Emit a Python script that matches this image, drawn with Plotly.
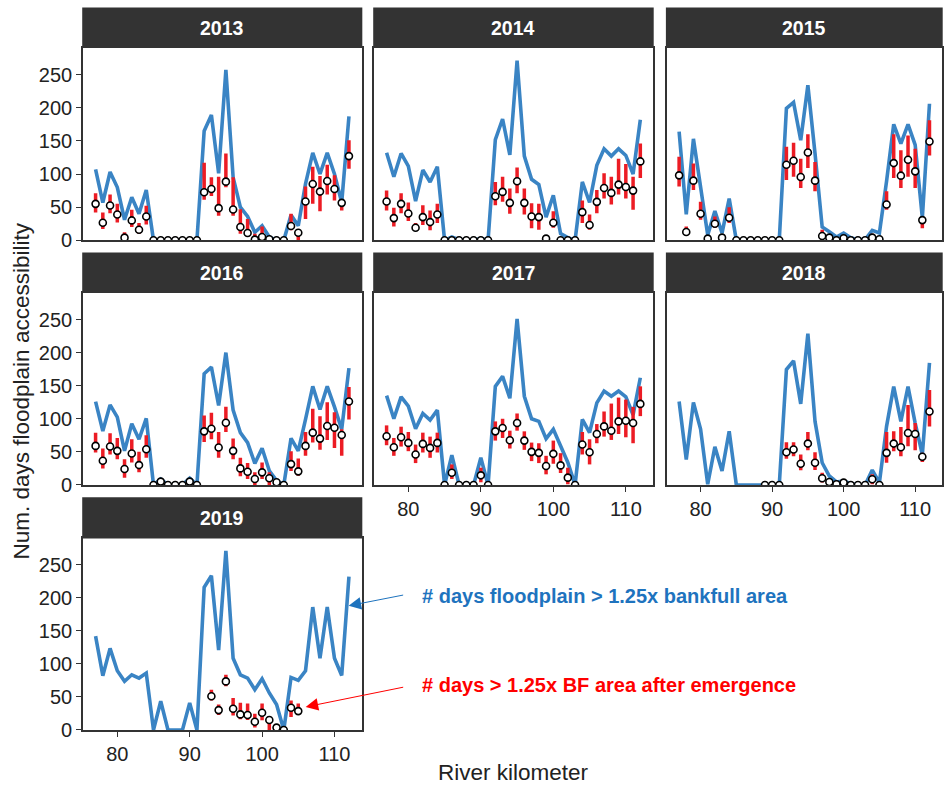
import plotly.graph_objects as go

km = list(range(77, 113))
years = ["2013", "2014", "2015", "2016", "2017", "2018", "2019"]
N = None

blue_2013 = [107, 57, 103, 80, 31, 65, 40, 76, 0, 0, 0, 0, 0, 0, 0,
             165, 189, 101, 257, 95, 50, 36, 12, 22, 5, 0, 0,
             38, 22, 85, 132, 100, 132, 100, 57, 187]
pt_2013 = [55, 26.5, 52.5, 39, 4, 30, 16, 36, 0, 0, 0, 0, 0, 0, 0,
           72.5, 77.5, 48.5, 88.5, 46.5, 20, 11, 1, 5, 1.5, 0, 0,
           21.5, 11.5, 58.5, 85, 73.5, 89.5, 77.5, 56.5, 127]
lo_2013 = [42, 17, 41, 27, 0, 20, 10, 24, 0, 0, 0, 0, 0, 0, 0,
           61, 67, 37, 80, 37, 10, 5, 0, 0, 1.5, 0, 0,
           15, 0, 32, 55, 44, 69, 60, 45, 108]
hi_2013 = [71, 42, 69, 55, 12, 46, 26, 52, 0, 0, 0, 0, 0, 0, 0,
           117, 95, 96, 131, 95, 47, 32, 10, 21, 1.5, 0, 0,
           40, 17, 81, 111, 97, 114, 98, 62, 151]

blue_2014 = [132, 96, 131, 112, 59, 106, 88, 111, 0, 5, 1, 0, 0, 3, 0,
             152, 183, 129, 271, 127, 92, 84, 35, 68, 10, 4, 0,
             88, 57, 113, 138, 127, 138, 128, 100, 182]
pt_2014 = [58.5, 33.5, 55, 40.5, 19, 35, 27.5, 39, 0, 0, 0, 0, 0, 0, 0,
           66.5, 73, 56.5, 89, 56.5, 36, 35, 2.5, 26.5, 0, 0, 0,
           42.5, 23, 58, 79, 71.5, 84, 80.5, 75, 119]
lo_2014 = [45, 21, 41, 29, 14, 23, 15, 26, 0, 0, 0, 0, 0, 0, 0,
           53, 58, 40, 71, 39, 18, 16, 2.5, 19, 0, 0, 0,
           26, 16, 41, 63, 54, 69, 63, 46, 94]
hi_2014 = [75, 49, 71, 57, 26, 53, 45, 55, 0, 0, 0, 0, 0, 0, 0,
           88, 96, 78, 110, 78, 56, 55, 2.5, 44, 0, 0, 0,
           60, 39, 76, 101, 96, 123, 115, 96, 146]

blue_2015 = [164, 39, 153, 79, 8, 44, 11, 63, 0, 0, 0, 0, 0, 0, 0,
             199, 208, 151, 234, 131, 20, 13, 5, 11, 4, 1, 1,
             15, 11, 89, 175, 146, 175, 144, 34, 206]
pt_2015 = [98, 12.5, 90, 40, 2.5, 25, 4, 34, 0, 0, 0, 0, 0, 0, 0,
           114, 120, 95.5, 132.5, 90, 6.5, 4, 0, 3, 0, 0, 0,
           4, 1.5, 54, 116.5, 97.5, 121.5, 104, 30.5, 149]
lo_2015 = [81, 9, 76, 31, 2.5, 19, 0, 26, 0, 0, 0, 0, 0, 0, 0,
           91, 96, 79, 109, 74, 0, 4, 0, 3, 0, 0, 0,
           0, 1.5, 46, 94, 79, 96, 79, 18, 128]
hi_2015 = [126, 21, 116, 58, 2.5, 36, 9, 50, 0, 0, 0, 0, 0, 0, 0,
           141, 147, 123, 160, 118, 16, 4, 0, 3, 0, 0, 0,
           10, 1.5, 74, 160, 136, 158, 138, 34, 181]

blue_2016 = [126, 81.5, 121, 102.5, 51.5, 92.5, 69, 100.5, 0, 9, 0, 0, 0, 10, 0,
             168, 178, 120, 200, 113, 79, 64, 32.5, 55.5, 21.5, 6.5, 0,
             70.5, 51.5, 99, 149, 114, 149, 118, 84, 176.5]
pt_2016 = [59, 36.5, 58, 51.5, 24, 47.5, 30, 54, 0, 5, 0, 0, 0, 5, 0,
           81, 85, 56.5, 94, 51.5, 25, 20, 9, 19, 10, 4, 0,
           31.5, 20.5, 59, 79, 70, 89, 86.5, 75.5, 126]
lo_2016 = [49, 25, 46, 39, 11, 34, 19, 41, 0, 0, 0, 0, 0, 0, 0,
           65, 69, 41, 80, 39, 13, 9, 0, 9, 0, 0, 0,
           21, 14, 44, 64, 53, 68, 56, 44, 99]
hi_2016 = [79, 55, 78, 71, 39, 69, 50, 75, 0, 10, 0, 0, 0, 10, 0,
           105, 109, 80, 118, 70, 41, 33, 19, 34, 19, 8, 0,
           51, 40, 80, 115, 104, 125, 110, 84, 148]

blue_2017 = [135, 100, 133, 119, 85, 108, 98, 113, 0, 45, 0, 0, 0, 41, 0,
             149, 164, 131, 251, 134, 100, 96, 70, 84, 59, 34, 0,
             99, 79, 124, 142, 134, 142, 133, 106, 162]
pt_2017 = [73.5, 57, 72, 63.5, 46, 62, 56, 63.5, 0, 18.5, 0, 0, 0, 14.5, 0,
           81, 86, 67.5, 93.5, 67, 50, 48.5, 28.5, 47, 29.5, 11, 0,
           61, 49.5, 77, 88.5, 82, 96, 97, 93.5, 122.5]
lo_2017 = [60, 44, 58, 51, 33, 49, 41, 49, 0, 9, 0, 0, 0, 4, 0,
           67, 71, 55, 82, 53, 36, 33, 16, 32, 18, 1, 0,
           46, 31, 63, 73, 68, 77, 72, 63, 104]
hi_2017 = [90, 71, 88, 80, 61, 79, 73, 79, 0, 31, 0, 0, 0, 26, 0,
           96, 100, 82, 108, 81, 64, 63, 44, 67, 48, 26, 0,
           80, 69, 92, 111, 123, 132, 129, 118, 149]

blue_2018 = [126, 38.5, 124.5, 84.5, 1, 57.5, 21, 81, 0, 0, 0, 0, 0, 0, 0,
             174.5, 187.5, 122.5, 228.5, 96, 33.5, 13.5, 4.5, 6, 2, 0, 0,
             22.5, 3.5, 88.5, 148.5, 96, 148.5, 93.5, 46, 184.5]
pt_2018 = [N, N, N, N, N, N, N, N, N, N, N, N, 0, 0, 0,
           49.5, 53.5, 32, 62.5, 33.5, 10, 4.5, 1, 3.5, 0, 0, 0,
           8.5, 0, 48.5, 62.5, 57, 78.5, 77, 42.5, 111]
lo_2018 = [N, N, N, N, N, N, N, N, N, N, N, N, 0, 0, 0,
           39.5, 43.5, 22, 52.5, 22.5, 3.5, 4.5, 1, 3.5, 0, 0, 0,
           1, 0, 33.5, 51, 43.5, 58.5, 52.5, 34.5, 88.5]
hi_2018 = [N, N, N, N, N, N, N, N, N, N, N, N, 0, 0, 0,
           64.5, 64.5, 46, 80, 49.5, 18.5, 4.5, 1, 3.5, 0, 0, 0,
           16, 0, 80, 81, 87.5, 121, 93.5, 48.5, 143.5]

blue_2019 = [142, 82, 123.5, 89.5, 73.5, 83.5, 78.5, 86, 0, 43.5, 0, 0, 0, 41, 0,
             216, 233.5, 121, 271, 108.5, 83.5, 78.5, 61, 77.5, 56, 38.5, 0,
             79.5, 75, 89.5, 186, 108.5, 186, 108.5, 82.5, 232]
pt_2019 = [N, N, N, N, N, N, N, N, N, N, N, N, N, N, N, N,
           51, 30, 73.5, 32, 23.5, 22.5, 12.5, 26, 15, 3.5, 0, 33.5, 28.5,
           N, N, N, N, N, N, N]
lo_2019 = [N, N, N, N, N, N, N, N, N, N, N, N, N, N, N, N,
           44.5, 22.5, 66, 22, 16, 15, 3.5, 14.5, 0, 0, 0, 19.5, 22.5,
           N, N, N, N, N, N, N]
hi_2019 = [N, N, N, N, N, N, N, N, N, N, N, N, N, N, N, N,
           61, 38.5, 83.5, 48.5, 41, 40, 24.5, 40, 21, 5, 0, 44.5, 40,
           N, N, N, N, N, N, N]

x_ticks = [80, 90, 100, 110]
y_ticks = [0, 50, 100, 150, 200, 250]
label_blue = "# days floodplain > 1.25x bankfull area"
label_red = "# days > 1.25x BF area after emergence"
x_title = "River kilometer"
y_title = "Num. days floodplain accessibility"

series = {
    "2013": (blue_2013, pt_2013, lo_2013, hi_2013),
    "2014": (blue_2014, pt_2014, lo_2014, hi_2014),
    "2015": (blue_2015, pt_2015, lo_2015, hi_2015),
    "2016": (blue_2016, pt_2016, lo_2016, hi_2016),
    "2017": (blue_2017, pt_2017, lo_2017, hi_2017),
    "2018": (blue_2018, pt_2018, lo_2018, hi_2018),
    "2019": (blue_2019, pt_2019, lo_2019, hi_2019),
}

W, H = 944, 792
HEFF = 780.0   # vertical span observed on the rendered page
BLUE = "#3A84C4"
RED = "#EC1C24"
FONT = "Liberation Sans, Arial, sans-serif"
col_px = [(83, 362), (374.3, 653.7), (667.3, 943)]
row_px = [(48, 240), (292.7, 484.3), (537.7, 729)]
hdr_px = [(7.5, 48), (252.3, 292.7), (496.7, 537.7)]


def px(x):
    return x / W


def py(y):
    return 1 - y / HEFF


fig = go.Figure()
layout = {}
shapes = []
annotations = []

for i, yr in enumerate(years):
    r, c = divmod(i, 3)
    n = i + 1
    sfx = "" if n == 1 else str(n)
    xa, ya = "x" + sfx, "y" + sfx
    blue, pts, lo, hi = series[yr]
    fig.add_trace(go.Scatter(
        x=km, y=blue, mode="lines", line=dict(color=BLUE, width=3.6),
        xaxis=xa, yaxis=ya, showlegend=False, hoverinfo="skip"))
    plus = [None if p is None else h - p for p, h in zip(pts, hi)]
    minus = [None if p is None else p - l for p, l in zip(pts, lo)]
    fig.add_trace(go.Scatter(
        x=km, y=pts, mode="markers",
        marker=dict(size=7, color="white", line=dict(color="black", width=1.6)),
        error_y=dict(type="data", symmetric=False, array=plus, arrayminus=minus,
                     color=RED, thickness=3.5, width=0),
        xaxis=xa, yaxis=ya, showlegend=False, hoverinfo="skip"))

    show_x = yr in ("2017", "2018", "2019")
    show_y = c == 0
    x0, x1 = col_px[c]
    y0, y1 = row_px[r]
    layout["xaxis" + sfx] = dict(
        domain=[px(x0), px(x1)], range=[75.25, 113.75], anchor=ya,
        tickvals=x_ticks, showticklabels=show_x,
        ticks="outside" if show_x else "", ticklen=5, tickwidth=1.3, tickcolor="#333",
        showline=True, mirror=True, linecolor="#333", linewidth=1.5,
        showgrid=False, zeroline=False,
        tickfont=dict(size=20, color="#222", family=FONT))
    layout["yaxis" + sfx] = dict(
        domain=[py(y1), py(y0)], range=[0, 290], anchor=xa,
        tickvals=y_ticks, showticklabels=show_y,
        ticks="outside" if show_y else "", ticklen=5, tickwidth=1.3, tickcolor="#333",
        showline=True, mirror=True, linecolor="#333", linewidth=1.5,
        showgrid=False, zeroline=False,
        tickfont=dict(size=20, color="#222", family=FONT))

    h0, h1 = hdr_px[r]
    shapes.append(dict(type="rect", xref="paper", yref="paper",
                       x0=px(x0 - 0.7), x1=px(x1 + 0.7), y0=py(h1), y1=py(h0),
                       fillcolor="#333333", line=dict(width=0), layer="below"))
    annotations.append(dict(xref="paper", yref="paper", x=px((x0 + x1) / 2),
                            y=py((h0 + h1) / 2), text="<b>%s</b>" % yr, showarrow=False,
                            font=dict(size=19.5, color="white", family=FONT),
                            xanchor="center", yanchor="middle"))

annotations.append(dict(xref="paper", yref="paper", x=px(514), y=py(772), text=x_title,
                        showarrow=False, font=dict(size=22.5, color="#222", family=FONT),
                        xanchor="center", yanchor="middle"))
annotations.append(dict(xref="paper", yref="paper", x=px(22), y=py(390), text=y_title,
                        showarrow=False, textangle=-90,
                        font=dict(size=22.5, color="#222", family=FONT),
                        xanchor="center", yanchor="middle"))

# arrows
annotations.append(dict(xref="paper", yref="paper", x=px(349), y=py(605), ax=56, ay=-11,
                        axref="pixel", ayref="pixel", text="", showarrow=True,
                        arrowhead=2, arrowsize=2.5, arrowwidth=1, arrowcolor="#1E73BE",
                        standoff=0))
annotations.append(dict(xref="paper", yref="paper", x=px(306), y=py(706), ax=99, ay=-20,
                        axref="pixel", ayref="pixel", text="", showarrow=True,
                        arrowhead=2, arrowsize=2.5, arrowwidth=1, arrowcolor="#FF0000",
                        standoff=0))
annotations.append(dict(xref="paper", yref="paper", x=px(420), y=py(595),
                        text="<b>%s</b>" % label_blue, showarrow=False,
                        font=dict(size=20, color="#1E73BE", family=FONT),
                        xanchor="left", yanchor="middle"))
annotations.append(dict(xref="paper", yref="paper", x=px(420), y=py(684),
                        text="<b>%s</b>" % label_red, showarrow=False,
                        font=dict(size=20, color="#FF0000", family=FONT),
                        xanchor="left", yanchor="middle"))

fig.update_layout(
    width=W, height=H, autosize=False, margin=dict(l=0, r=0, t=0, b=0),
    paper_bgcolor="white", plot_bgcolor="white",
    font=dict(family=FONT, color="#222"),
    shapes=shapes, annotations=annotations, **layout)

fig.write_html("out.html",
               config={"displayModeBar": False, "responsive": False},
               post_script="document.body.style.margin='0px';"
                           "document.body.style.overflow='hidden';")
